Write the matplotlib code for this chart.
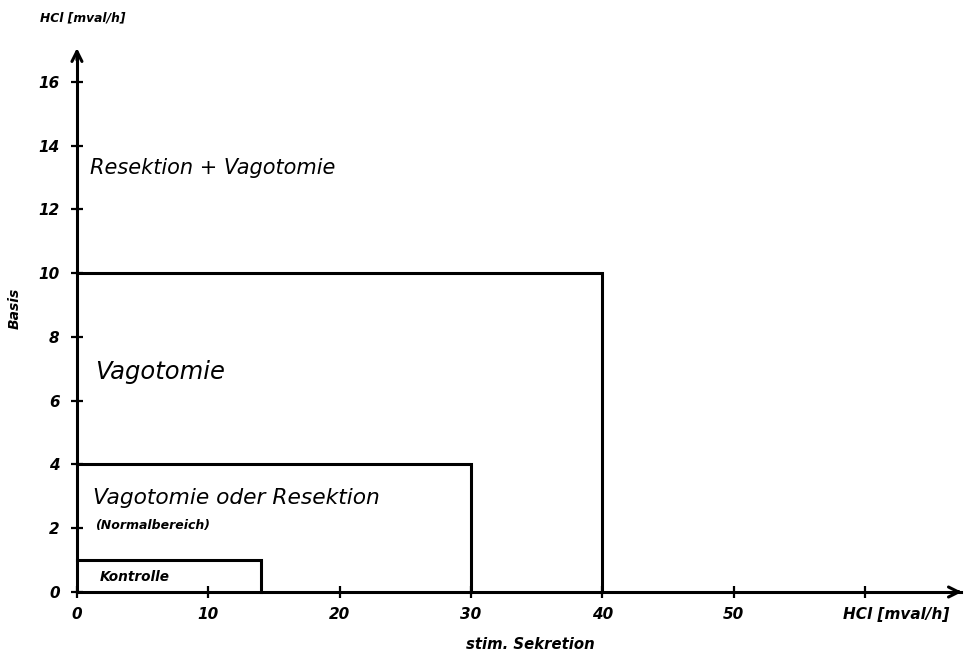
import matplotlib
matplotlib.use("Agg")
from matplotlib import pyplot as plt

plt.rcParams["font.family"] = ["DejaVu Sans"]

# data
x_ticks = [0, 10, 20, 30, 40, 50, 60]
x_tick_labels = ["0", "10", "20", "30", "40", "50", ""]
y_ticks = [0, 2, 4, 6, 8, 10, 12, 14, 16]
# zones: (stim. Sekretion limit, Basis limit)
zone_stim = [14, 30, 40]
zone_basis = [1, 4, 10]
zone_labels = ["Vagotomie oder Resektion", "Vagotomie", "Resektion + Vagotomie"]
unit = "HCl [mval/h]"

fig = plt.figure(figsize=(9.66, 6.58), dpi=100)
ax = fig.add_axes([0, 0, 1, 1])
ax.set_xlim(-5.86, 67.7)
ax.set_ylim(-2.07, 18.57)

lw = 2.2
for s in ["top", "right"]:
    ax.spines[s].set_visible(False)
ax.spines["left"].set_position(("data", 0))
ax.spines["bottom"].set_position(("data", 0))
ax.spines["left"].set_bounds(0, 16.9)
ax.spines["bottom"].set_bounds(0, 67.3)
ax.spines["left"].set_linewidth(lw)
ax.spines["bottom"].set_linewidth(lw)

# arrow heads
ax.annotate("", xy=(0, 17.15), xytext=(0, 16.6),
            arrowprops=dict(arrowstyle="->", lw=lw, color="black", mutation_scale=18))
ax.annotate("", xy=(67.6, 0), xytext=(66.8, 0),
            arrowprops=dict(arrowstyle="->", lw=lw, color="black", mutation_scale=18))

tick_font = dict(fontsize=11, fontstyle="italic", fontweight="bold")
ax.set_xticks(x_ticks)
ax.set_xticklabels(x_tick_labels, **tick_font)
ax.set_yticks(y_ticks)
ax.set_yticklabels([str(v) for v in y_ticks], **tick_font)
ax.tick_params(axis="both", direction="inout", length=9, width=1.6)
ax.tick_params(axis="x", pad=6)
ax.tick_params(axis="y", pad=8)

# zone outlines
for sx, by in zip(zone_stim, zone_basis):
    ax.plot([0, sx, sx], [by, by, 0], color="black", lw=lw, solid_joinstyle="miter")

# zone labels
ax.text(1.0, 13.3, zone_labels[2], fontsize=15, fontstyle="italic", va="center")
ax.text(1.35, 6.9, zone_labels[1], fontsize=17.5, fontstyle="italic", va="center")
ax.text(1.2, 2.95, zone_labels[0], fontsize=15.7, fontstyle="italic", va="center")
ax.text(1.35, 2.1, "(Normalbereich)", fontsize=9, fontstyle="italic",
        fontweight="bold", va="center")
ax.text(1.75, 0.47, "Kontrolle", fontsize=9.8, fontstyle="italic",
        fontweight="bold", va="center")

# axis titles
ax.text(-2.82, 18.0, unit, fontsize=8.8, fontstyle="italic", fontweight="bold", va="center")
ax.text(58.3, -0.72, unit, fontsize=11, fontstyle="italic", fontweight="bold", va="center")
ax.text(34.5, -1.66, "stim. Sekretion", fontsize=10.7, fontstyle="italic",
        fontweight="bold", va="center", ha="center")
ax.text(-4.72, 8.9, "Basis", fontsize=10, fontstyle="italic", fontweight="bold",
        va="center", ha="center", rotation=90)

fig.savefig("out.png", dpi=100)
